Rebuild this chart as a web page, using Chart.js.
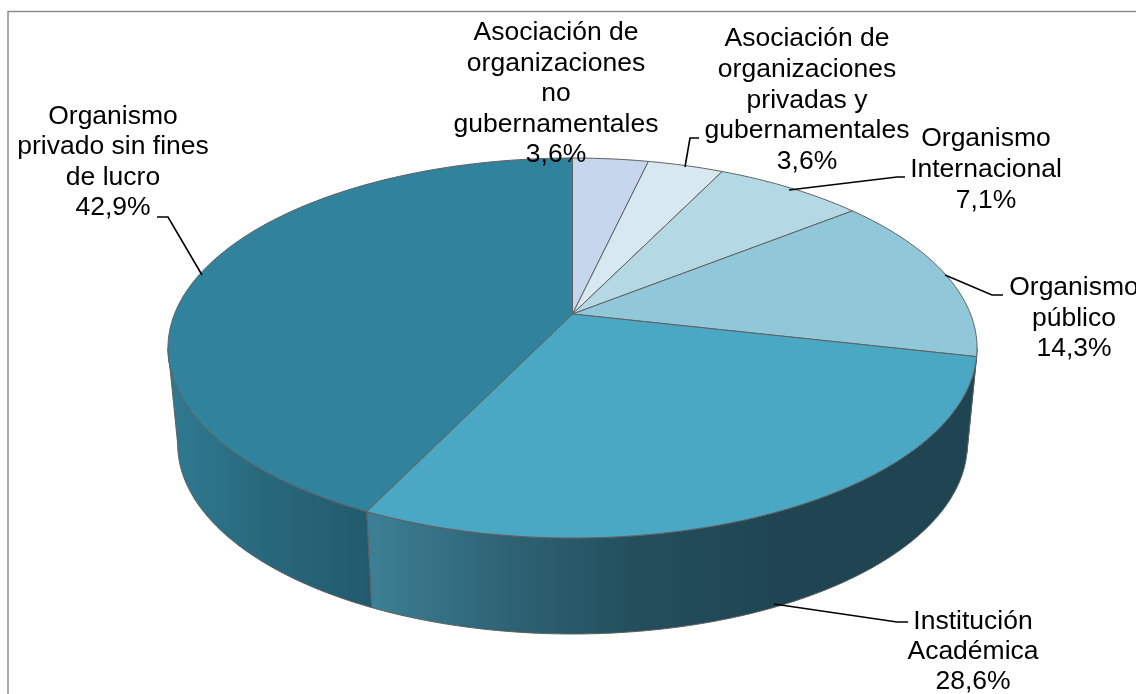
<!DOCTYPE html>
<html lang="es">
<head>
<meta charset="utf-8">
<title>Gráfico</title>
<script src="https://cdn.jsdelivr.net/npm/chart.js@4"></script>
<style>
  html, body { margin: 0; padding: 0; background: #fff; overflow: hidden; }
  canvas { display: block; }
</style>
</head>
<body>
<canvas id="chartCanvas" width="1136" height="694"></canvas>
<script>
// Datos
const categories = [
  'Asociación de organizaciones no gubernamentales',
  'Asociación de organizaciones privadas y gubernamentales',
  'Organismo Internacional',
  'Organismo público',
  'Institución Académica',
  'Organismo privado sin fines de lucro'
];
const values = [3.6, 3.6, 7.1, 14.3, 28.6, 42.9];
const sliceColors = ['#c5d6ed', '#d8e8f0', '#b4d9e4', '#90c8da', '#4aa8c4', '#31829d'];

// Líneas de cada etiqueta
const labelLines = [
  ['Asociación de', 'organizaciones', 'no', 'gubernamentales'],
  ['Asociación de', 'organizaciones', 'privadas y', 'gubernamentales'],
  ['Organismo', 'Internacional'],
  ['Organismo', 'público'],
  ['Institución', 'Académica'],
  ['Organismo', 'privado sin fines', 'de lucro']
];

// Posición de etiquetas: centro x, línea base de la primera línea
const labelX = [556, 807, 986, 1074, 973, 113];
const labelY = [40, 46, 146, 295, 629, 124];
const lineStep = [30.6, 30.8, 31, 30.5, 30, 30.4];

// Líneas guía
const leaders = [
  null,
  [[685, 167], [690, 138], [699, 138]],
  [[789, 190], [897, 177], [905, 177]],
  [[945, 275], [992, 295], [1003, 295]],
  [[774, 604], [897, 622], [908, 622]],
  [[202, 275], [168, 217], [157, 217]]
];

// Degradados de las paredes laterales
const wallStops = {
  4: [[372, '#3c7f94'], [500, '#2e6476'], [640, '#234e5c'], [780, '#1f4552'], [980, '#1f4552']],
  5: [[170, '#2e7a92'], [260, '#29697d'], [372, '#225a6c']],
  3: [[960, '#1f4552'], [980, '#1f4552']]
};

// Perspectiva de la tapa del pastel
const K = 0.179;
const SY = 183.9;
const SX = 398;
const SHIFT_X = 4.5;
const TOP_Y = 314;
const BOTTOM_Y = 410;
const BOTTOM_X = 0.976;

function project(el, angle, bottom) {
  // punto unitario desde el propio arco de Chart.js
  const ux = Math.cos(angle);
  const uy = Math.sin(angle);
  const d = 1 - K * uy;
  return {
    x: el.x + SHIFT_X + (bottom ? BOTTOM_X : 1) * SX * ux / d,
    y: (bottom ? BOTTOM_Y : TOP_Y) + SY * uy / d
  };
}

function arcPoints(el, a0, a1, bottom) {
  const pts = [];
  const n = Math.max(2, Math.ceil(Math.abs(a1 - a0) / 0.01));
  for (let i = 0; i <= n; i++) {
    pts.push(project(el, a0 + (a1 - a0) * i / n, bottom));
  }
  return pts;
}

function tracePoints(ctx, pts, move) {
  pts.forEach((p, i) => {
    if (i === 0 && move) ctx.moveTo(p.x, p.y);
    else ctx.lineTo(p.x, p.y);
  });
}

const pie3d = {
  id: 'pie3d',
  beforeDatasetsDraw(chart) {
    const ctx = chart.ctx;
    const arcs = chart.getDatasetMeta(0).data;
    ctx.save();

    // paredes: solo la parte de delante (sin(a) > K)
    const wallFrom = Math.asin(K);
    const wallTo = Math.PI - wallFrom;
    ctx.lineWidth = 1;
    ctx.strokeStyle = '#5f5f5f';
    arcs.forEach((el, i) => {
      const a0 = Math.max(el.startAngle, wallFrom);
      const a1 = Math.min(el.endAngle, wallTo);
      if (a1 <= a0 || !wallStops[i]) return;
      const grad = ctx.createLinearGradient(170, 0, 980, 0);
      wallStops[i].forEach(s => grad.addColorStop(Math.min(1, Math.max(0, (s[0] - 170) / 810)), s[1]));
      ctx.beginPath();
      tracePoints(ctx, arcPoints(el, a0, a1, false), true);
      tracePoints(ctx, arcPoints(el, a1, a0, true), false);
      ctx.closePath();
      ctx.fillStyle = grad;
      ctx.fill();
      ctx.stroke();
    });

    // tapa
    arcs.forEach(el => {
      ctx.beginPath();
      ctx.moveTo(el.x + SHIFT_X, TOP_Y);
      tracePoints(ctx, arcPoints(el, el.startAngle, el.endAngle, false), false);
      ctx.closePath();
      ctx.fillStyle = el.options.backgroundColor;
      ctx.fill();
      ctx.lineWidth = el.options.borderWidth;
      ctx.strokeStyle = el.options.borderColor;
      ctx.stroke();
    });

    ctx.restore();
    return false; // ya dibujado
  },
  afterDraw(chart) {
    const ctx = chart.ctx;
    ctx.save();

    // marco del gráfico
    ctx.strokeStyle = '#8c8c8c';
    ctx.lineWidth = 1.5;
    ctx.beginPath();
    ctx.moveTo(8, 694);
    ctx.lineTo(8, 11.5);
    ctx.lineTo(1136, 11.5);
    ctx.stroke();

    // líneas guía
    ctx.strokeStyle = '#000';
    ctx.lineWidth = 1.6;
    leaders.forEach(line => {
      if (!line) return;
      ctx.beginPath();
      line.forEach((p, i) => i ? ctx.lineTo(p[0], p[1]) : ctx.moveTo(p[0], p[1]));
      ctx.stroke();
    });

    // etiquetas
    ctx.fillStyle = '#000';
    ctx.font = '26.5px "Liberation Sans", Arial, sans-serif';
    ctx.textAlign = 'center';
    ctx.textBaseline = 'alphabetic';
    labelLines.forEach((lines, i) => {
      const all = lines.concat(values[i].toFixed(1).replace('.', ',') + '%');
      all.forEach((t, j) => ctx.fillText(t, labelX[i], labelY[i] + j * lineStep[i]));
    });
    ctx.restore();
  }
};

const ctx = document.getElementById('chartCanvas').getContext('2d');
const chart = new Chart(ctx, {
  type: 'pie',
  data: {
    labels: categories,
    datasets: [{
      data: values,
      backgroundColor: sliceColors,
      borderColor: '#5f5f5f',
      borderWidth: 1
    }]
  },
  options: {
    responsive: false,
    animation: false,
    events: [],
    plugins: {
      legend: { display: false },
      tooltip: { enabled: false }
    },
    layout: { padding: 0 }
  },
  plugins: [pie3d]
});
</script>
</body>
</html>
